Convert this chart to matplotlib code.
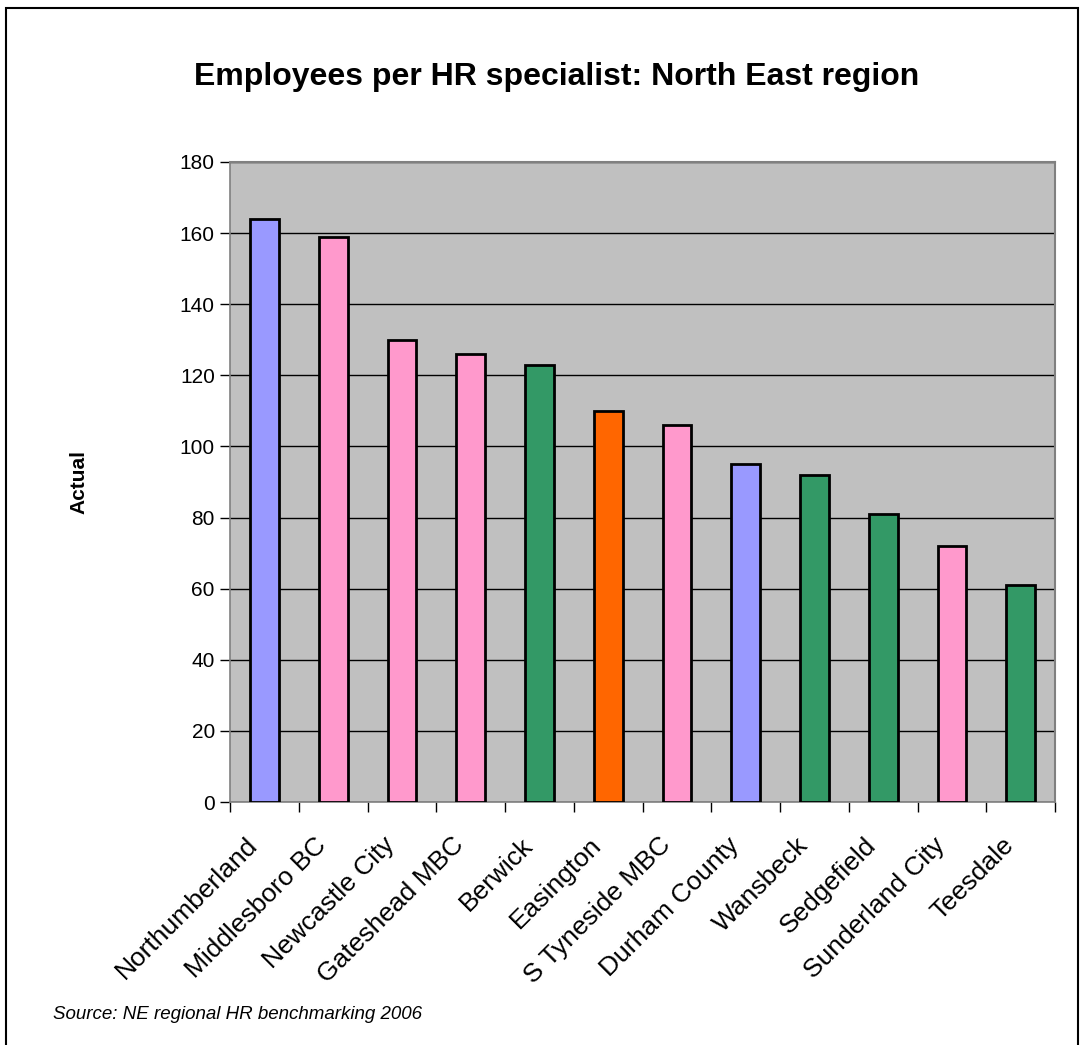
import numpy as np
import matplotlib.pyplot as plt
from matplotlib.patches import Rectangle
from matplotlib.transforms import ScaledTranslation

plt.rcParams['font.family'] = ['Liberation Sans', 'DejaVu Sans']

# data
councils = ['Northumberland', 'Middlesboro BC', 'Newcastle City', 'Gateshead MBC',
            'Berwick', 'Easington', 'S Tyneside MBC', 'Durham County',
            'Wansbeck', 'Sedgefield', 'Sunderland City', 'Teesdale']
actual = [164, 159, 130, 126, 123, 110, 106, 95, 92, 81, 72, 61]
council_type = ['county', 'unitary', 'unitary', 'unitary', 'district', 'other',
                'unitary', 'county', 'district', 'district', 'unitary', 'district']

type_colors = {'county': '#9999FF', 'unitary': '#FF99CC',
               'district': '#339966', 'other': '#FF6600'}

fig = plt.figure(figsize=(10.8, 10.45), dpi=100)
ax = fig.add_axes([0.213, 0.2325, 0.764, 0.6125])

x = np.arange(len(councils))
cols = [type_colors[t] for t in council_type]
ax.bar(x, actual, width=0.42, color=cols, edgecolor='black', linewidth=2, zorder=3)

ax.set_facecolor('#C0C0C0')
ax.set_xlim(-0.5, len(councils) - 0.5)
ax.set_ylim(0, 180)
ax.set_yticks(np.arange(0, 181, 20))
ax.yaxis.grid(True, color='black', linewidth=1)
ax.set_axisbelow(True)

# category boundaries as ticks (Excel style)
ax.set_xticks(np.arange(-0.5, len(councils), 1))
ax.set_xticklabels([])
ax.set_xticks(x, minor=True)
ax.set_xticklabels(councils, minor=True, rotation=45, ha='right', va='top',
                   rotation_mode='anchor', fontsize=19)
ax.tick_params(axis='x', which='minor', length=0, pad=10)
ax.tick_params(axis='x', which='major', length=7, width=1, direction='out')
ax.tick_params(axis='y', length=7, width=1, direction='out', labelsize=15, pad=4)

# nudge the slanted labels down-left like the original
shift = ScaledTranslation(-0.19, -0.17, fig.dpi_scale_trans)
for lab in ax.get_xticklabels(minor=True):
    lab.set_transform(lab.get_transform() + shift)

for s in ['top', 'right']:
    ax.spines[s].set_color('#808080')
    ax.spines[s].set_linewidth(1.5)
for s in ['left', 'bottom']:
    ax.spines[s].set_color('#808080')
    ax.spines[s].set_linewidth(1.2)

ax.set_ylabel('Actual', fontsize=15, fontweight='bold')
ax.yaxis.set_label_coords(-0.172, 0.5)

fig.text(0.515, 0.926, 'Employees per HR specialist: North East region',
         ha='center', va='center', fontsize=23, fontweight='bold')
fig.text(0.049, 0.029, 'Source: NE regional HR benchmarking 2006',
         ha='left', va='center', fontsize=13.5, style='italic')

fig.patches.append(Rectangle((0.006, -0.01), 0.992, 1.002, transform=fig.transFigure,
                             fill=False, edgecolor='black', linewidth=1.5))

fig.savefig('out.png', dpi=100)
